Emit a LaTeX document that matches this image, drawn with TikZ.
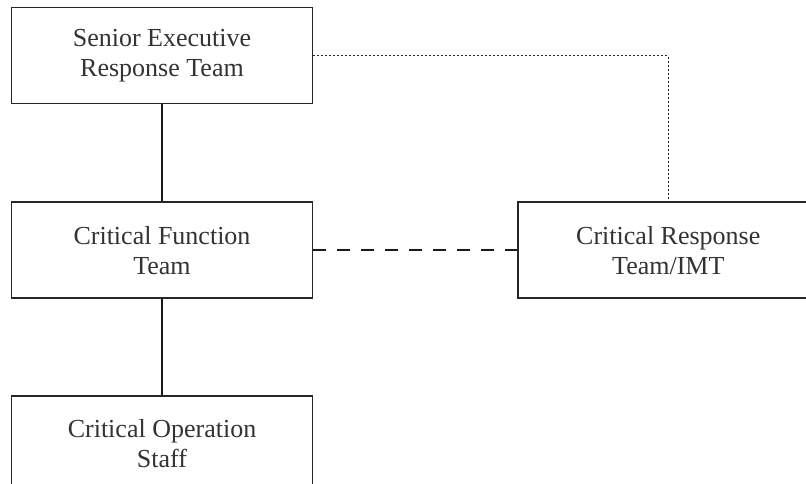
\documentclass[tikz,border=0pt]{standalone}
\usepackage{fontspec}
\setmainfont{Liberation Serif}
\usetikzlibrary{positioning}

\begin{document}
\begin{tikzpicture}[
  x=1pt, y=-1pt,
  font=\fontsize{26}{30}\selectfont,
  box/.style={draw=black!85, line width=1.8pt, align=center, text=black!80,
              minimum width=301pt, minimum height=96pt, inner sep=4pt},
  solidline/.style={draw=black!90, line width=2pt},
  dashline/.style={draw=black!90, line width=1.8pt, dash pattern=on 13pt off 11pt},
  dotline/.style={draw=black!85, line width=1.6pt, dash pattern=on 2pt off 2pt}
]
  \clip (0,0) rectangle (806,484);
  \fill[white] (0,0) rectangle (806,484);
  \node[box] (senior) at (162,55.5) {Senior Executive\\Response Team};
  \node[box, below=97pt of senior] (function) {Critical Function\\Team};
  \node[box, below=96pt of function] (staff) {Critical Operation\\Staff};
  \node[box, right=204pt of function, minimum width=300pt] (response) {Critical Response\\Team/IMT};
  % reporting lines
  \draw[solidline] (senior) -- (function);
  \draw[solidline] (function) -- (staff);
  % coordination links
  \draw[dashline] (function) -- (response);
  \draw[dotline] (senior.east) -| (response.north);
\end{tikzpicture}
\end{document}
